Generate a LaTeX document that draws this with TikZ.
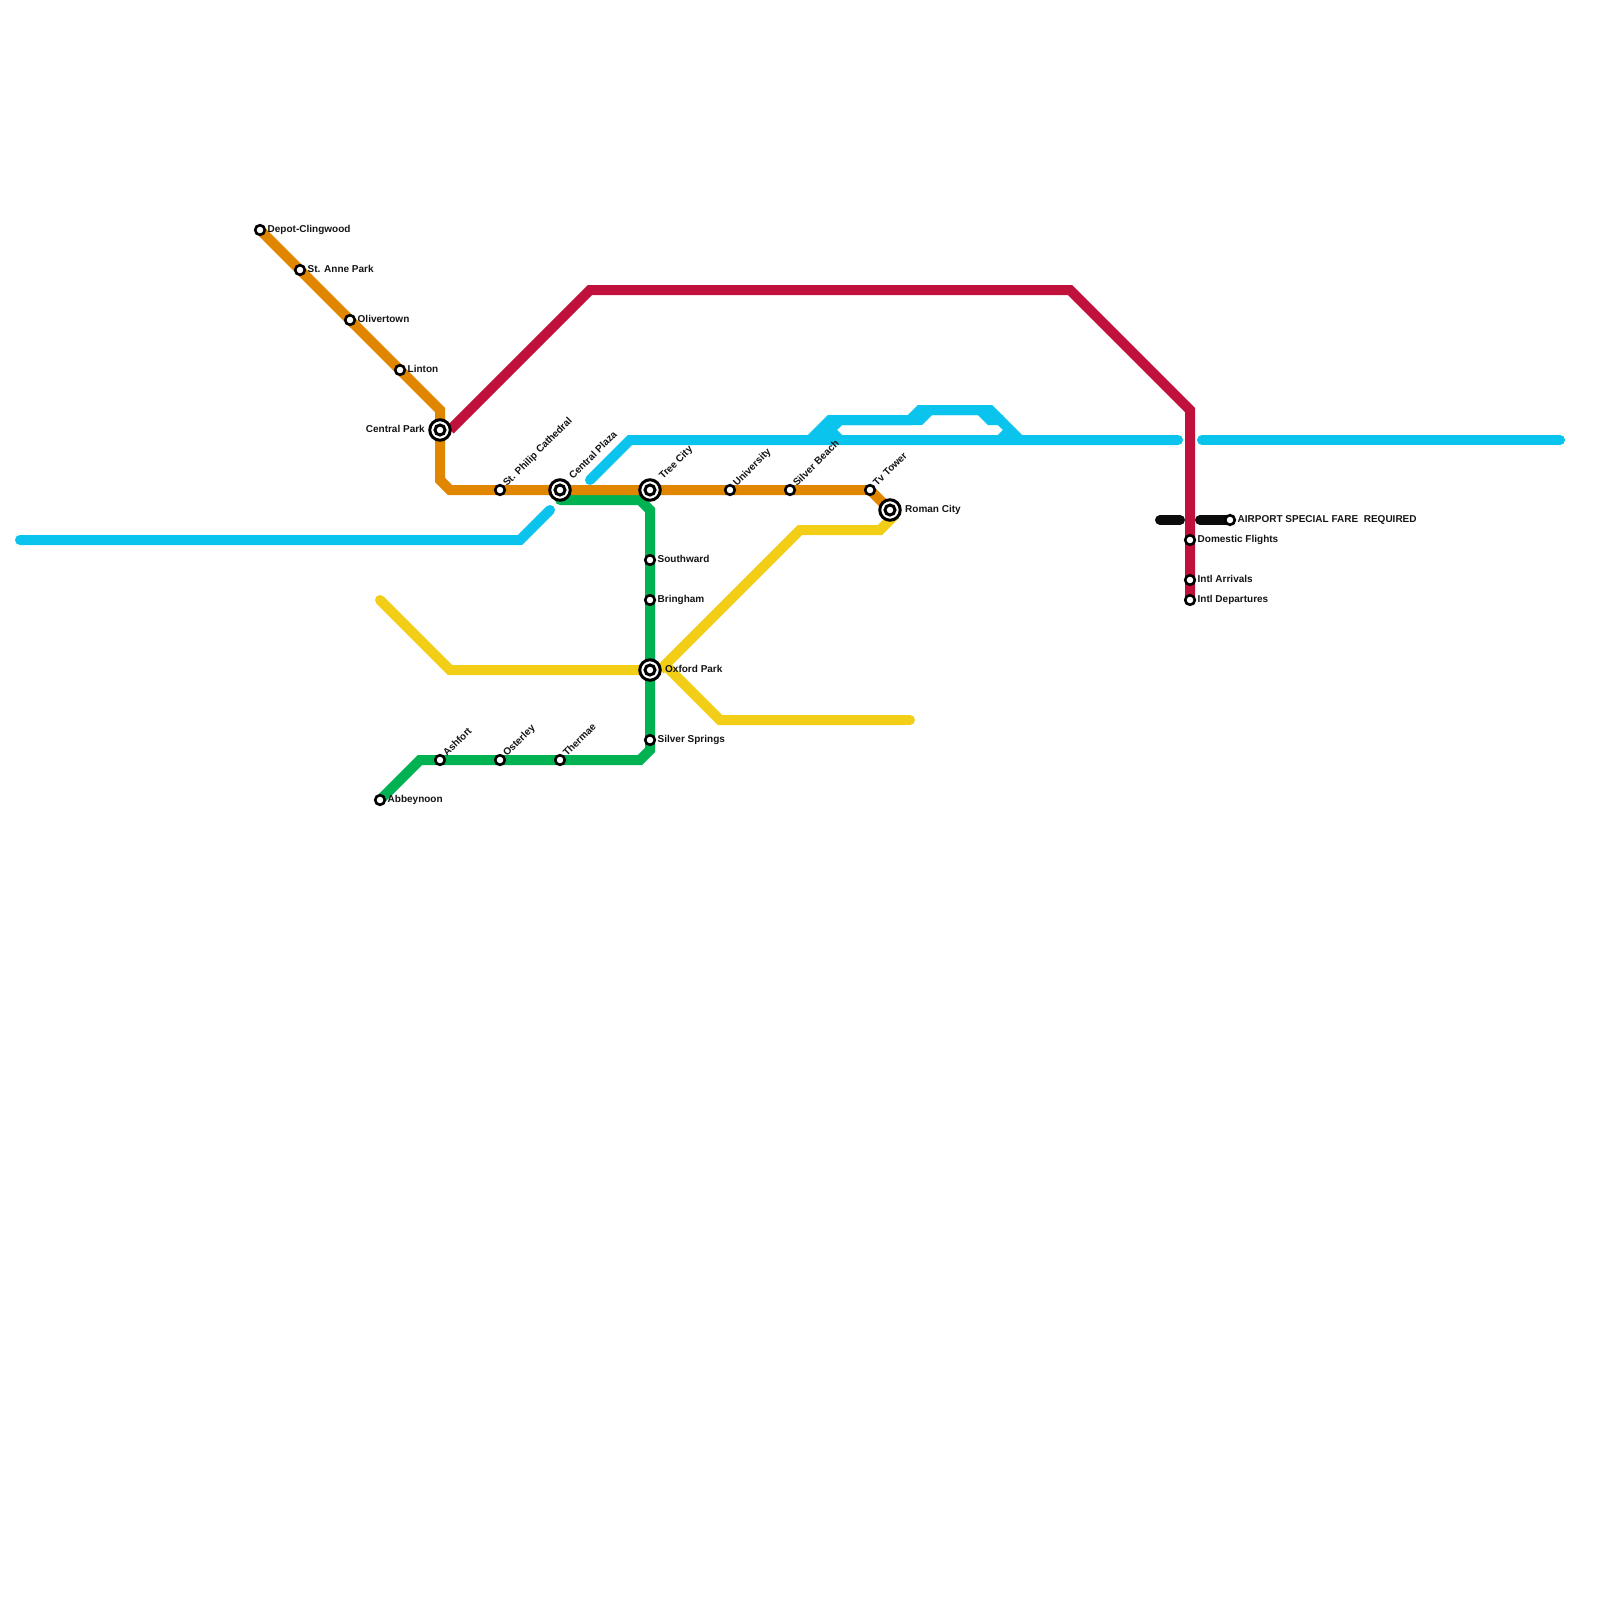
\documentclass[tikz,border=0pt]{standalone}
\usepackage{fontspec}
\setmainfont{Liberation Sans}
\definecolor{lorange}{HTML}{E08600}
\definecolor{lcrimson}{HTML}{C0103C}
\definecolor{lcyan}{HTML}{0AC4EE}
\definecolor{lgreen}{HTML}{00B251}
\definecolor{lyellow}{HTML}{F2CE17}
\definecolor{lblack}{HTML}{0C0C0C}
\tikzset{
  metro/.style={line width=10pt,line cap=round,line join=miter},
  flat/.style={metro,line cap=butt},
  stsmall/.style={circle,draw=black,fill=white,line width=2.6pt,minimum size=9.6pt,inner sep=0pt},
  stbig/.style={circle,draw=black,fill=white,line width=3pt,minimum size=20.5pt,inner sep=0pt},
  stcore/.style={circle,draw=black,fill=white,line width=3pt,minimum size=10pt,inner sep=0pt},
  lab/.style={font=\fontsize{10}{11}\selectfont\bfseries,text=black!92,inner sep=0pt,anchor=base west},
  labl/.style={lab,anchor=base east},
  labr/.style={lab,rotate=45}
}
\begin{document}
\begin{tikzpicture}[x=1pt,y=-1pt]
\useasboundingbox (0,0) rectangle (1600,1600);
% station positions
\coordinate (depot) at (260,230);
\coordinate (anne) at (300,270);
\coordinate (oliver) at (350,320);
\coordinate (linton) at (400,370);
\coordinate (cpark) at (440,430);
\coordinate (philip) at (500,490);
\coordinate (cplaza) at (560,490);
\coordinate (tree) at (650,490);
\coordinate (univ) at (730,490);
\coordinate (silverb) at (790,490);
\coordinate (tv) at (870,490);
\coordinate (roman) at (890,510);
\coordinate (south) at (650,560);
\coordinate (bring) at (650,600);
\coordinate (oxford) at (650,670);
\coordinate (springs) at (650,740);
\coordinate (ashfort) at (440,760);
\coordinate (osterley) at (500,760);
\coordinate (thermae) at (560,760);
\coordinate (abbey) at (380,800);
\coordinate (airport) at (1230,520);
\coordinate (domestic) at (1190,540);
\coordinate (arrivals) at (1190,580);
\coordinate (departs) at (1190,600);
% free ends
\coordinate (cyanW) at (20,540);
\coordinate (cyanA) at (550,510);
\coordinate (cyanB) at (590,480);
\coordinate (cyanC) at (1178,440);
\coordinate (cyanD) at (1202,440);
\coordinate (cyanE) at (1560,440);
\coordinate (yelW) at (380,600);
\coordinate (yelE) at (910,720);
\coordinate (blkA) at (1160,520);
\coordinate (blkB) at (1180,520);
\coordinate (blkC) at (1200,520);
% lines
\draw[metro,lcyan] (cyanW) -- (520,540) -- (cyanA);
\draw[metro,lcyan] (cyanB) -- (630,440) -- (cyanC);
\draw[metro,lcyan] (cyanD) -- (cyanE);
\draw[flat,lcyan] (810,440) -- (830,420) -- (910,420) -- (920,410) -- (990,410) -- (1020,440);
\draw[flat,lcyan] (820,440) -- (840,420) -- (920,420) -- (930,410) -- (980,410) -- (990,420) -- (1003,420);
\draw[flat,lcyan] (825,425) -- (840,440);
\draw[flat,lcyan] (1000,440) -- (1010,430);
\draw[metro,lyellow] (yelW) -- (450,670) -- (oxford);
\draw[flat,lyellow] (895,515) -- (880,530) -- (800,530) -- (660,670);
\draw[metro,lyellow,line cap=butt] (665,665) -- (720,720) -- (905,720);
\draw[metro,lyellow] (905,720) -- (yelE);
\draw[metro,lgreen] (cplaza) ++(0,10) -- (640,500) -- (650,510) -- (650,750) -- (640,760) -- (420,760) -- (abbey);
\draw[flat,lcrimson] (cpark) ++(10,0) -- (590,290) -- (1070,290) -- (1190,410) -- (departs);
\draw[metro,lblack] (blkA) -- (blkB);
\draw[metro,lblack] (blkC) -- (airport);
\draw[flat,lorange] (depot) -- (440,410) -- (440,480) -- (450,490) -- (870,490) -- (roman);
% stations
\foreach \n in {depot,anne,oliver,linton,philip,univ,silverb,tv,south,bring,springs,ashfort,osterley,thermae,abbey,airport,domestic,arrivals,departs}
  \node[stsmall] (st\n) at (\n) {};
\foreach \n in {cpark,cplaza,tree,roman,oxford}{
  \node[stbig] (st\n) at (\n) {};
  \node[stcore] (core\n) at (\n) {};
}
% labels
\node[lab] (ldepot) at (267.5,232.5) {Depot-Clingwood};
\node[lab] (lanne) at (307.5,272.5) {St. Anne Park};
\node[lab] (loliver) at (357.5,322.5) {Olivertown};
\node[lab] (llinton) at (407.5,372.5) {Linton};
\node[labl] (lcpark) at (425,432.5) {Central Park};
\node[labr] (lphilip) at (507,487) {St. Philip Cathedral};
\node[labr] (lcplaza) at (573,480) {Central Plaza};
\node[labr] (ltree) at (663,480) {Tree City};
\node[labr] (luniv) at (737,487) {University};
\node[labr] (lsilverb) at (797,487) {Silver Beach};
\node[labr] (ltv) at (877,487) {Tv Tower};
\node[lab] (lroman) at (905,512.5) {Roman City};
\node[lab] (lsouth) at (657.5,562.5) {Southward};
\node[lab] (lbring) at (657.5,602.5) {Bringham};
\node[lab] (loxford) at (665,672.5) {Oxford Park};
\node[lab] (lsprings) at (657.5,742.5) {Silver Springs};
\node[labr] (lashfort) at (447,757) {Ashfort};
\node[labr] (losterley) at (507,757) {Osterley};
\node[labr] (lthermae) at (567,757) {Thermae};
\node[lab] (labbey) at (387.5,802.5) {Abbeynoon};
\node[lab] (lairport) at (1237.5,522.5) {AIRPORT SPECIAL FARE\ \ REQUIRED};
\node[lab] (ldomestic) at (1197.5,542.5) {Domestic Flights};
\node[lab] (larrivals) at (1197.5,582.5) {Intl Arrivals};
\node[lab] (ldeparts) at (1197.5,602.5) {Intl Departures};
\end{tikzpicture}
\end{document}
